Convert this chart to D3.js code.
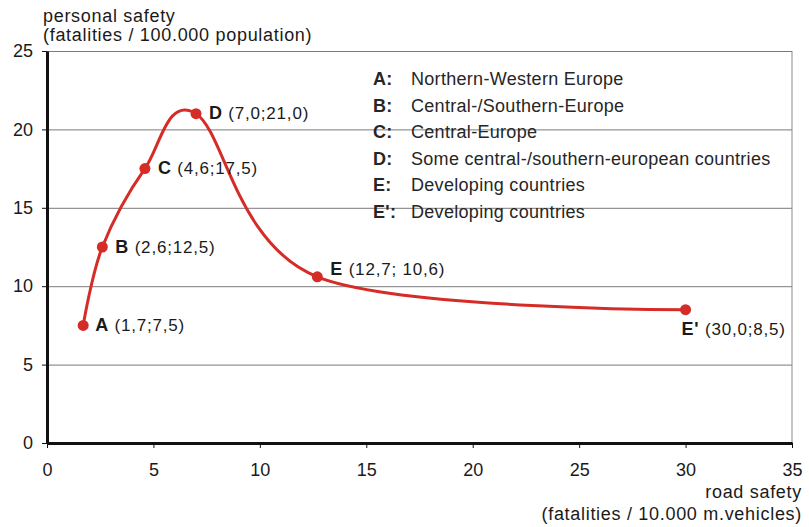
<!DOCTYPE html>
<html>
<head>
    <meta charset="utf-8"/>
    <style>
        body{ margin:0; background:#fff; }
        text{ font-family: "Liberation Sans", Arial, sans-serif; fill:#1a1a1a; }
        .grid line{ stroke:#7a7a7a; stroke-width:1; }
        .grid path{ display:none; }
        .axis path, .axis line{ stroke:#111; }
        .axis text{ font-size:18px; fill:#1a1a1a; }
        .pt-label{ font-size:17px; letter-spacing:0.8px; }
        .legend text{ font-size:18px; letter-spacing:0.3px; fill:#262626; }
        .title{ font-size:18px; letter-spacing:0.7px; }
    </style>
</head>
<body>
<svg id="graph"></svg>

<script src="https://d3js.org/d3.v7.min.js"></script>
<script>
    // data points
    const LETTERS = ['A', 'B', 'C', 'D', 'E', "E'"];
    const ROAD = [1.7, 2.6, 4.6, 7.0, 12.7, 30.0];
    const PERSONAL = [7.5, 12.5, 17.5, 21.0, 10.6, 8.5];
    const POINT_TEXT = ['(1,7;7,5)', '(2,6;12,5)', '(4,6;17,5)', '(7,0;21,0)', '(12,7; 10,6)', '(30,0;8,5)'];
    const LEGEND = [
        ['A:', 'Northern-Western Europe'],
        ['B:', 'Central-/Southern-Europe'],
        ['C:', 'Central-Europe'],
        ['D:', 'Some central-/southern-european countries'],
        ['E:', 'Developing countries'],
        ["E':", 'Developing countries']
    ];
    const X_TICKS = [0, 5, 10, 15, 20, 25, 30, 35];
    const Y_TICKS = [0, 5, 10, 15, 20, 25];

    // label offsets from each point (pixels)
    var labelOffset = [[12, 6], [13, 6], [13, 5], [13, 5], [13, -2], [-4, 25]];

    var width = 809, height = 527;
    var plotLeft = 47, plotRight = 792, plotTop = 51, plotBottom = 443;
    var red = '#d62c28';

    var svg = d3.select('#graph')
        .attr('width', width)
        .attr('height', height);

    var x = d3.scaleLinear().domain([0, 35]).range([plotLeft, plotRight]);
    var y = d3.scaleLinear().domain([0, 25]).range([plotBottom, plotTop]);

    // horizontal gridlines
    svg.append('g')
        .attr('class', 'grid')
        .attr('transform', 'translate(' + plotLeft + ',0)')
        .call(d3.axisLeft(y).tickValues(Y_TICKS.slice(1)).tickSize(-(plotRight - plotLeft)).tickFormat(''));

    // thin border on the right side
    svg.append('line')
        .attr('x1', plotRight).attr('x2', plotRight)
        .attr('y1', plotTop).attr('y2', plotBottom)
        .attr('stroke', '#8a8a8a');

    // axes
    var yAxis = svg.append('g')
        .attr('class', 'axis')
        .attr('transform', 'translate(' + plotLeft + ',0)')
        .call(d3.axisLeft(y).tickValues(Y_TICKS).tickSize(5).tickSizeOuter(0).tickPadding(9).tickFormat(d3.format('d')));
    yAxis.select('path').attr('stroke-width', 3);

    var xAxis = svg.append('g')
        .attr('class', 'axis')
        .attr('transform', 'translate(0,' + plotBottom + ')')
        .call(d3.axisBottom(x).tickValues(X_TICKS).tickSize(5).tickSizeOuter(0).tickPadding(15).tickFormat(d3.format('d')));
    xAxis.select('path').attr('stroke-width', 3);

    // smoothed line through the points (uniform Catmull-Rom, like a spreadsheet smoothed line)
    var pts = ROAD.map(function(d, i){ return [d, PERSONAL[i]]; });
    var line = d3.line()
        .x(function(d){ return x(d[0]); })
        .y(function(d){ return y(d[1]); })
        .curve(d3.curveCardinal.tension(0));
    svg.append('path')
        .datum(pts)
        .attr('d', line)
        .attr('fill', 'none')
        .attr('stroke', red)
        .attr('stroke-width', 3);

    svg.selectAll('.dot')
        .data(pts)
        .enter().append('circle')
        .attr('class', 'dot')
        .attr('cx', function(d){ return x(d[0]); })
        .attr('cy', function(d){ return y(d[1]); })
        .attr('r', 5.5)
        .attr('fill', red);

    // point labels
    var labels = svg.selectAll('.pt-label')
        .data(pts)
        .enter().append('text')
        .attr('class', 'pt-label')
        .attr('x', function(d, i){ return x(d[0]) + labelOffset[i][0]; })
        .attr('y', function(d, i){ return y(d[1]) + labelOffset[i][1]; });
    labels.append('tspan')
        .attr('font-weight', 'bold')
        .attr('font-size', '18px')
        .text(function(d, i){ return LETTERS[i]; });
    labels.append('tspan')
        .text(function(d, i){ return ' ' + POINT_TEXT[i]; });

    // legend text
    var legend = svg.append('g').attr('class', 'legend');
    legend.selectAll('.key')
        .data(LEGEND)
        .enter().append('text')
        .attr('class', 'key')
        .attr('x', 373)
        .attr('y', function(d, i){ return 85 + i * 26.6; })
        .attr('font-weight', 'bold')
        .text(function(d){ return d[0]; });
    legend.selectAll('.name')
        .data(LEGEND)
        .enter().append('text')
        .attr('class', 'name')
        .attr('x', 411)
        .attr('y', function(d, i){ return 85 + i * 26.6; })
        .text(function(d){ return d[1]; });

    // axis titles
    svg.append('text').attr('class', 'title').attr('x', 43).attr('y', 22).text('personal safety');
    svg.append('text').attr('class', 'title').attr('x', 43).attr('y', 41).text('(fatalities / 100.000 population)');
    svg.append('text').attr('class', 'title').attr('x', 802).attr('y', 498)
        .attr('text-anchor', 'end').text('road safety');
    svg.append('text').attr('class', 'title').attr('x', 802).attr('y', 520)
        .attr('text-anchor', 'end').text('(fatalities / 10.000 m.vehicles)');
</script>
</body>
</html>
